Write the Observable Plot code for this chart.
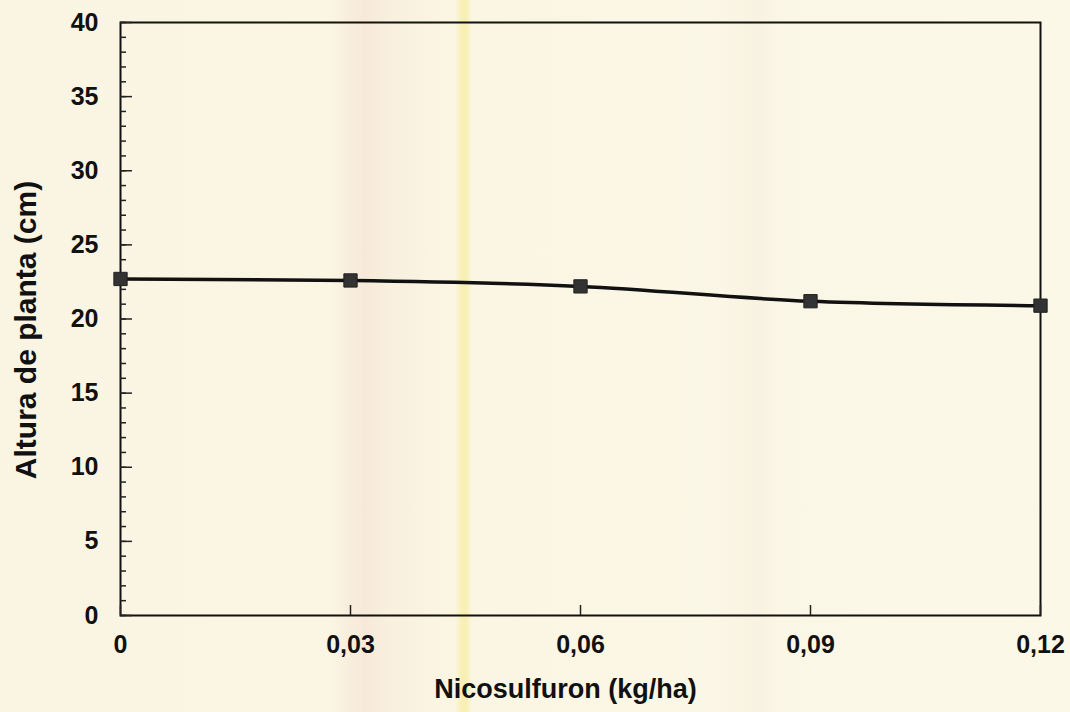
<!DOCTYPE html>
<html>
<head>
<meta charset="utf-8">
<script src="https://cdn.jsdelivr.net/npm/d3@7"></script>
<script src="https://cdn.jsdelivr.net/npm/@observablehq/plot@0.6"></script>
<style>
  html, body { margin: 0; padding: 0; }
  body {
    width: 1070px; height: 712px; overflow: hidden;
    background: linear-gradient(90deg,
      #faf5e2 0px, #fbf6e3 330px, #f9efdf 345px, #f7e9d9 365px, #f9f0de 392px,
      #fbf6e3 455px, #f8f0b8 461px, #f7efb2 466px, #fbf6e3 472px,
      #fbf7e6 700px, #f9f2e2 760px, #fbf7e6 785px, #fcf8e8 1070px);
  }
  #chart svg { display: block; background: transparent !important; }
</style>
</head>
<body>
<div id="chart"></div>
<script>
const doses = [0, 0.03, 0.06, 0.09, 0.12];
const heights = [22.7, 22.6, 22.2, 21.2, 20.9];
const xTicks = [0, 0.03, 0.06, 0.09, 0.12];
const xTickLabels = ["0", "0,03", "0,06", "0,09", "0,12"];
const yMajor = [0, 5, 10, 15, 20, 25, 30, 35, 40];
const yMinor = d3.range(0, 41, 1);

const data = doses.map((d, i) => ({dose: d, h: heights[i]}));

const chart = Plot.plot({
  width: 1070,
  height: 712,
  marginLeft: 120,
  marginRight: 30,
  marginTop: 22,
  marginBottom: 97,
  style: {fontFamily: "'Liberation Sans', Arial, sans-serif", fontWeight: "bold", fontSize: "25px", color: "#111", background: "transparent"},
  x: {domain: [0, 0.12]},
  y: {domain: [0, 40]},
  marks: [
    Plot.frame({stroke: "#111", strokeWidth: 2}),
    Plot.axisY(yMinor, {tickSize: -6, text: null, label: null, stroke: "#222", strokeWidth: 1.5}),
    Plot.axisY(yMajor, {tickSize: -12, tickPadding: 34, stroke: "#222", strokeWidth: 1.5, fontSize: 25, fontWeight: "bold", label: null}),
    Plot.axisX(xTicks, {tickSize: -10, tickPadding: 30, stroke: "#222", strokeWidth: 1.5, fontSize: 25, fontWeight: "bold", tickFormat: (d) => xTickLabels[xTicks.indexOf(d)], label: null}),
    Plot.text(["Nicosulfuron (kg/ha)"], {frameAnchor: "bottom", dx: -15, dy: 82, fontSize: 27, fontWeight: "bold", fill: "#111"}),
    Plot.text(["Altura de planta (cm)"], {frameAnchor: "left", textAnchor: "middle", dx: -94, dy: 11, rotate: -90, fontSize: 30, fontWeight: "bold", fill: "#111"}),
    Plot.line(data, {x: "dose", y: "h", stroke: "#111", strokeWidth: 3.5, curve: "monotone-x"}),
    Plot.dot(data, {x: "dose", y: "h", symbol: "square", r: 7.5, fill: "#333", stroke: "#222", strokeWidth: 1})
  ]
});
document.getElementById("chart").appendChild(chart);
</script>
</body>
</html>
